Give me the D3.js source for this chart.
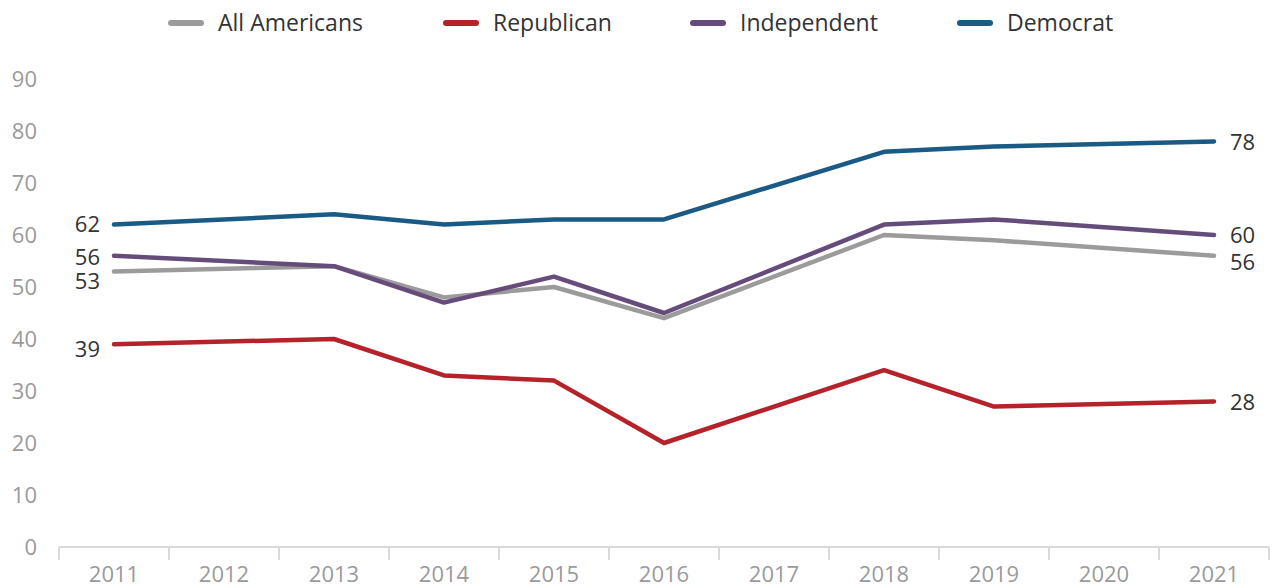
<!DOCTYPE html>
<html>
<head>
<meta charset="utf-8">
<script src="https://cdn.jsdelivr.net/npm/d3@7"></script>
<style>
  html, body { margin: 0; padding: 0; background: #fff; }
  svg { display: block; font-family: "Open Sans", "Noto Sans", sans-serif; }
</style>
</head>
<body>
<svg id="chart" width="1272" height="588"></svg>
<script>
// Survey years on the x axis
const years = ["2011","2012","2013","2014","2015","2016","2017","2018","2019","2020","2021"];
// Values per series (null = no survey that year)
const allAmericans = [53, null, 54, 48, 50, 44, null, 60, 59, null, 56];
const republican   = [39, null, 40, 33, 32, 20, null, 34, 27, null, 28];
const independent  = [56, null, 54, 47, 52, 45, null, 62, 63, null, 60];
const democrat     = [62, null, 64, 62, 63, 63, null, 76, 77, null, 78];
const seriesNames  = ["All Americans", "Republican", "Independent", "Democrat"];
const yTicks = [0, 10, 20, 30, 40, 50, 60, 70, 80, 90];

const colors = {
  "All Americans": "#9b9b9b",
  "Republican": "#b5222a",
  "Independent": "#664c7a",
  "Democrat": "#1b5a85"
};

// startDy / endDy: vertical nudges that keep crowded end labels apart
const series = [
  { name: "All Americans", values: allAmericans, startDy: 10, endDy: 6 },
  { name: "Republican",    values: republican,   startDy: 5,  endDy: 1 },
  { name: "Independent",   values: independent,  startDy: 1,  endDy: 0 },
  { name: "Democrat",      values: democrat,     startDy: 0,  endDy: 1 }
];

const svg = d3.select("#chart");
const margin = { left: 59, right: 3, top: 79, bottom: 41 };
const W = 1272, H = 588;

const x = d3.scaleBand().domain(years).range([margin.left, W - margin.right]).padding(0);
const y = d3.scaleLinear().domain([0, 90]).range([H - margin.bottom, margin.top]);

// Y tick labels (no axis line, no gridlines)
svg.append("g").selectAll("text")
  .data(yTicks).join("text")
  .attr("x", 37)
  .attr("y", d => y(d))
  .attr("dy", "0.35em")
  .attr("text-anchor", "end")
  .attr("fill", "#9a9a9a")
  .attr("font-size", 22)
  .text(d => d);

// X axis with ticks at band boundaries
const xAxisG = svg.append("g").attr("transform", `translate(0,${y(0)})`);
xAxisG.append("line")
  .attr("x1", x.range()[0]).attr("x2", x.range()[1])
  .attr("stroke", "#d9d9d9").attr("stroke-width", 2);
const boundaries = years.map(yr => x(yr)).concat([x.range()[1]]);
xAxisG.selectAll("line.tick")
  .data(boundaries).join("line")
  .attr("class", "tick")
  .attr("x1", d => d).attr("x2", d => d)
  .attr("y1", 0).attr("y2", 13)
  .attr("stroke", "#d9d9d9").attr("stroke-width", 2);
xAxisG.selectAll("text")
  .data(years).join("text")
  .attr("x", d => x(d) + x.bandwidth() / 2)
  .attr("y", 27)
  .attr("dy", "0.35em")
  .attr("text-anchor", "middle")
  .attr("fill", "#9a9a9a")
  .attr("font-size", 22)
  .text(d => d);

// Lines
const line = d3.line()
  .x(d => x(d.year) + x.bandwidth() / 2)
  .y(d => y(d.value));

series.forEach(s => {
  s.pts = years.map((yr, i) => ({ year: yr, value: s.values[i] }))
    .filter(d => d.value !== null);
});

svg.append("g").selectAll("path")
  .data(series).join("path")
  .attr("d", s => line(s.pts))
  .attr("fill", "none")
  .attr("stroke", s => colors[s.name])
  .attr("stroke-width", 4.5)
  .attr("stroke-linecap", "round")
  .attr("stroke-linejoin", "round");

// End labels
const labels = svg.append("g").attr("fill", "#333").attr("font-size", 22);
series.forEach(s => {
  const first = s.pts[0], last = s.pts[s.pts.length - 1];
  labels.append("text")
    .attr("x", x(first.year) + x.bandwidth() / 2 - 14)
    .attr("y", y(first.value) + s.startDy)
    .attr("dy", "0.35em")
    .attr("text-anchor", "end")
    .text(first.value);
  labels.append("text")
    .attr("x", x(last.year) + x.bandwidth() / 2 + 16)
    .attr("y", y(last.value) + s.endDy)
    .attr("dy", "0.35em")
    .attr("text-anchor", "start")
    .text(last.value);
});

// Legend
const legendPos = [168, 443, 690, 957];
const legend = svg.append("g");
seriesNames.forEach((name, i) => {
  const g = legend.append("g").attr("transform", `translate(${legendPos[i]},23)`);
  g.append("line")
    .attr("x1", 3).attr("x2", 33)
    .attr("stroke", colors[name]).attr("stroke-width", 6)
    .attr("stroke-linecap", "round");
  g.append("text")
    .attr("x", 50).attr("dy", "0.35em")
    .attr("fill", "#333").attr("font-size", 23)
    .text(name);
});
</script>
</body>
</html>
